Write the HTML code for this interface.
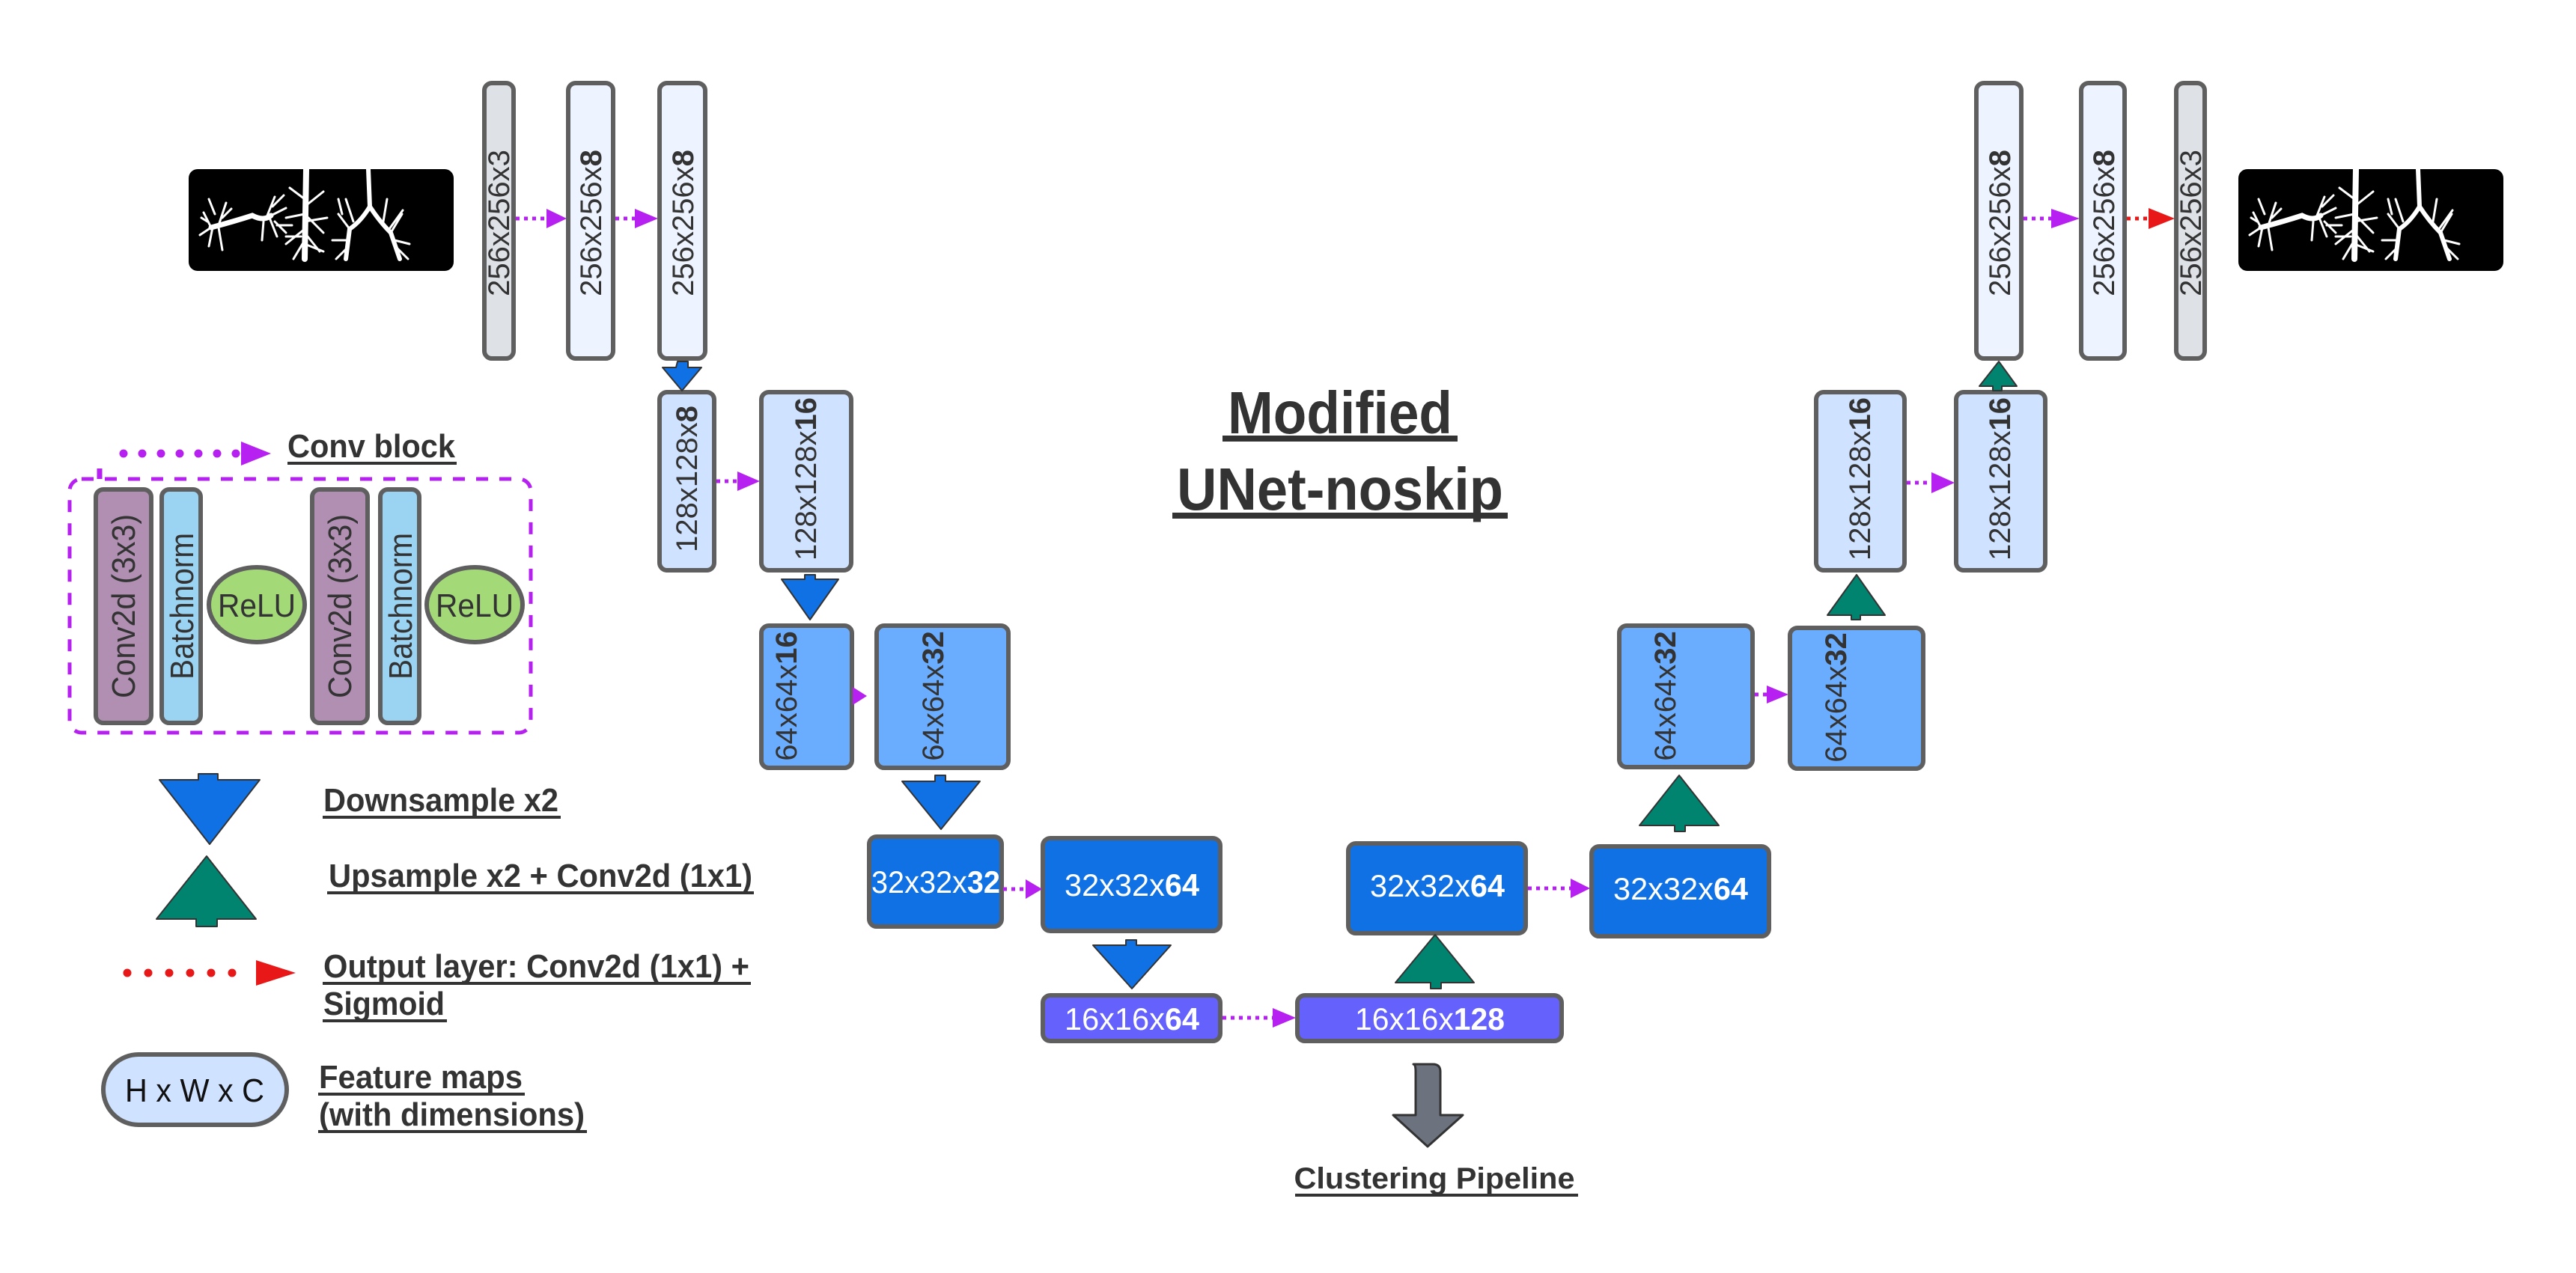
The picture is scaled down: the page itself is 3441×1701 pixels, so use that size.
<!DOCTYPE html>
<html><head><meta charset="utf-8"><style>
html,body{margin:0;padding:0;background:#fff;}
svg{display:block;}
text{font-family:"Liberation Sans",sans-serif;fill:#333;}
</style></head><body>
<svg width="3441" height="1701" viewBox="0 0 3441 1701" xmlns="http://www.w3.org/2000/svg">
<defs>
<g id="lung">
  <rect x="0" y="0" width="354" height="136" rx="12" fill="#000"/>
  <g stroke="#fff" fill="none" stroke-linecap="round">
    <path d="M30 78 Q60 70 85 62 Q100 70 110 62" stroke-width="7"/>
    <path d="M30 78 l-10 -20 M30 78 l-15 10 M32 78 l-5 25 M40 75 l10 -30 M40 78 l5 30 M25 70 l-8 -5 M35 60 l-8 -20 M45 65 l12 -12" stroke-width="3"/>
    <path d="M105 62 l10 -25 M110 62 l20 -10 M108 65 l10 25 M115 70 l15 15 M100 70 l-2 25 M112 50 l15 -15 M118 75 l20 0" stroke-width="3"/>
    <path d="M157 0 L155 120" stroke-width="8"/>
    <path d="M155 40 l-20 -15 M155 50 l25 -20 M155 60 l-25 5 M155 70 l30 -5 M155 80 l-25 20 M155 85 l20 25 M155 95 l-15 25 M155 100 l25 10 M150 90 l-20 0 M160 65 l20 20" stroke-width="3"/>
    <path d="M240 0 L242 50 Q230 70 215 80 L210 120 M242 50 Q255 70 270 85 L282 120" stroke-width="6"/>
    <path d="M215 80 l-15 -20 M212 95 l-20 0 M212 105 l-15 15 M220 70 l-10 -30 M270 85 l15 -25 M275 95 l20 5 M278 105 l15 15 M260 70 l5 -30 M268 80 l18 -25 M205 60 l-5 -20" stroke-width="3"/>
  </g>
</g>
</defs>

<use href="#lung" x="252" y="226"/>
<use href="#lung" x="2990" y="226"/>

<g stroke="#5f5f5f" stroke-width="6">
<rect x="647" y="111" width="39" height="368" rx="10" fill="#dee2e6"/>
<rect x="759" y="111" width="60" height="368" rx="10" fill="#edf4ff"/>
<rect x="881" y="111" width="61" height="368" rx="10" fill="#edf4ff"/>
<rect x="881" y="524" width="73" height="238" rx="10" fill="#cfe2ff"/>
<rect x="1017" y="524" width="120" height="238" rx="10" fill="#cfe2ff"/>
<rect x="1017" y="836" width="121" height="190" rx="10" fill="#6aadfe"/>
<rect x="1171" y="836" width="176" height="190" rx="10" fill="#6aadfe"/>
<rect x="1161" y="1118" width="177" height="120" rx="10" fill="#1071e5"/>
<rect x="1393" y="1120" width="237" height="124" rx="10" fill="#1071e5"/>
<rect x="1393" y="1330" width="237" height="61" rx="10" fill="#6461fc"/>
<rect x="1733" y="1330" width="353" height="61" rx="10" fill="#6461fc"/>
<rect x="1801" y="1127" width="237" height="120" rx="10" fill="#1071e5"/>
<rect x="2126" y="1131" width="237" height="120" rx="10" fill="#1071e5"/>
<rect x="2163" y="836" width="178" height="189" rx="10" fill="#6aadfe"/>
<rect x="2391" y="839" width="178" height="188" rx="10" fill="#6aadfe"/>
<rect x="2426" y="524" width="118" height="238" rx="10" fill="#cfe2ff"/>
<rect x="2613" y="524" width="119" height="238" rx="10" fill="#cfe2ff"/>
<rect x="2640" y="111" width="60" height="368" rx="10" fill="#edf4ff"/>
<rect x="2780" y="111" width="58" height="368" rx="10" fill="#edf4ff"/>
<rect x="2907" y="111" width="38" height="368" rx="10" fill="#dee2e6"/>
</g>

<g font-size="40" text-anchor="middle">
<text transform="translate(680,298) rotate(-90)">256x256x3</text>
<text transform="translate(803,298) rotate(-90)">256x256x<tspan font-weight="bold">8</tspan></text>
<text transform="translate(926,298) rotate(-90)">256x256x<tspan font-weight="bold">8</tspan></text>
<text transform="translate(931,640) rotate(-90)">128x128x<tspan font-weight="bold">8</tspan></text>
<text transform="translate(1090,640) rotate(-90)">128x128x<tspan font-weight="bold">16</tspan></text>
<text transform="translate(1064,930) rotate(-90)">64x64x<tspan font-weight="bold">16</tspan></text>
<text transform="translate(1260,930) rotate(-90)">64x64x<tspan font-weight="bold">32</tspan></text>
<text transform="translate(2238,930) rotate(-90)">64x64x<tspan font-weight="bold">32</tspan></text>
<text transform="translate(2466,932) rotate(-90)">64x64x<tspan font-weight="bold">32</tspan></text>
<text transform="translate(2498,640) rotate(-90)">128x128x<tspan font-weight="bold">16</tspan></text>
<text transform="translate(2685,640) rotate(-90)">128x128x<tspan font-weight="bold">16</tspan></text>
<text transform="translate(2685,298) rotate(-90)">256x256x<tspan font-weight="bold">8</tspan></text>
<text transform="translate(2824,298) rotate(-90)">256x256x<tspan font-weight="bold">8</tspan></text>
<text transform="translate(2940,298) rotate(-90)">256x256x3</text>
</g>

<g font-size="42" text-anchor="middle">
<text x="1250" y="1193" textLength="172" lengthAdjust="spacingAndGlyphs" style="fill:#fff">32x32x<tspan font-weight="bold">32</tspan></text>
<text x="1512" y="1197" textLength="180" lengthAdjust="spacingAndGlyphs" style="fill:#fff">32x32x<tspan font-weight="bold">64</tspan></text>
<text x="1512" y="1376" textLength="180" lengthAdjust="spacingAndGlyphs" style="fill:#fff">16x16x<tspan font-weight="bold">64</tspan></text>
<text x="1910" y="1376" textLength="200" lengthAdjust="spacingAndGlyphs" style="fill:#fff">16x16x<tspan font-weight="bold">128</tspan></text>
<text x="1920" y="1198" textLength="180" lengthAdjust="spacingAndGlyphs" style="fill:#fff">32x32x<tspan font-weight="bold">64</tspan></text>
<text x="2245" y="1202" textLength="180" lengthAdjust="spacingAndGlyphs" style="fill:#fff">32x32x<tspan font-weight="bold">64</tspan></text>
</g>

<g stroke="#b620f0" stroke-width="5" stroke-dasharray="5 6" fill="none">
<path d="M689 292 H730"/><path d="M822 292 H848"/>
<path d="M957 643 H985"/>
<path d="M1340 1188 H1370"/>
<path d="M1633 1360 H1700"/>
<path d="M2041 1187 H2098"/>
<path d="M2344 928 H2360"/>
<path d="M2547 645 H2580"/>
<path d="M2703 292 H2740"/>
</g>
<g fill="#b620f0">
<path d="M730 279 L757 292 L730 305Z"/><path d="M848 279 L879 292 L848 305Z"/>
<path d="M985 630 L1015 643 L985 656Z"/>
<path d="M1139 918 L1158 930 L1139 942Z"/>
<path d="M1370 1175 L1392 1188 L1370 1201Z"/>
<path d="M1700 1347 L1731 1360 L1700 1373Z"/>
<path d="M2098 1174 L2124 1187 L2098 1200Z"/>
<path d="M2360 916 L2389 928 L2360 940Z"/>
<path d="M2580 631 L2611 645 L2580 659Z"/>
<path d="M2740 279 L2778 292 L2740 305Z"/>
</g>
<path d="M2841 292 H2870" stroke="#e81818" stroke-width="5" stroke-dasharray="5 6"/>
<path d="M2870 278 L2905 292 L2870 306Z" fill="#e81818"/>

<g fill="#1071e5" stroke="#333" stroke-width="2" stroke-linejoin="round">
<path d="M905 483 h14 v8 h18 L911 522 L885 491 h18z"/>
<path d="M1075 768 h14 v6 h31 L1082 828 L1044 774 h31z"/>
<path d="M1249 1036 h14 v8 h46 L1257 1108 L1205 1044 h44z"/>
<path d="M1504 1256 h14 v7 h46 L1512 1321 L1460 1263 h44z"/>
<path d="M265 1034 h26 v8 h56 L280 1128 L213 1042 h52z" />
</g>
<g fill="#008470" stroke="#333" stroke-width="2" stroke-linejoin="round">
<path d="M2662 522 h12 v-6 h20 L2670 483 L2644 516 h18z"/>
<path d="M2473 828 h12 v-6 h33 L2480 768 L2441 822 h32z"/>
<path d="M2237 1111 h14 v-8 h45 L2243 1036 L2190 1103 h47z"/>
<path d="M1911 1321 h14 v-8 h44 L1917 1249 L1864 1313 h47z"/>
<path d="M262 1238 h28 v-10 h52 L276 1144 L209 1228 h53z"/>
</g>
<path d="M1888 1422 h26 q10 0 10 10 v58 l30 0 L1907 1532 L1861 1490 l30 0 v-58 q0 -10 -3 -10z" fill="#6c737e" stroke="#333" stroke-width="3" stroke-linejoin="round"/>
<text x="1916" y="1588" font-size="40" font-weight="bold" text-anchor="middle" textLength="375" lengthAdjust="spacingAndGlyphs">Clustering Pipeline</text>
<rect x="1730" y="1595" width="378" height="4" fill="#333"/>

<text x="1790" y="579" font-size="80" font-weight="bold" text-anchor="middle" textLength="300" lengthAdjust="spacingAndGlyphs">Modified</text>
<rect x="1633" y="582" width="314" height="8" fill="#333"/>
<text x="1790" y="681" font-size="80" font-weight="bold" text-anchor="middle" textLength="436" lengthAdjust="spacingAndGlyphs">UNet-noskip</text>
<rect x="1566" y="685" width="448" height="8" fill="#333"/>

<path d="M165 606 H335" stroke="#b620f0" stroke-width="11" stroke-dasharray="0 25" stroke-linecap="round"/>
<path d="M322 590 L362 606 L322 622Z" fill="#b620f0"/>
<text x="384" y="611" font-size="44" font-weight="bold" textLength="224" lengthAdjust="spacingAndGlyphs">Conv block</text>
<rect x="384" y="617" width="226" height="4" fill="#333"/>
<rect x="93" y="640" width="616" height="339" rx="16" fill="none" stroke="#b620f0" stroke-width="5" stroke-dasharray="16 15"/>
<path d="M133 626 v14" stroke="#b620f0" stroke-width="7"/>
<g stroke="#5f5f5f" stroke-width="6">
<rect x="128" y="654" width="74" height="312" rx="10" fill="#b08fb2"/>
<rect x="216" y="654" width="52" height="312" rx="10" fill="#9bd3f2"/>
<ellipse cx="343" cy="808" rx="64" ry="50" fill="#a3d977"/>
<rect x="417" y="654" width="74" height="312" rx="10" fill="#b08fb2"/>
<rect x="508" y="654" width="52" height="312" rx="10" fill="#9bd3f2"/>
<ellipse cx="634" cy="808" rx="64" ry="50" fill="#a3d977"/>
</g>
<g font-size="44" text-anchor="middle">
<text transform="translate(180,810) rotate(-90)" textLength="246" lengthAdjust="spacingAndGlyphs">Conv2d (3x3)</text>
<text transform="translate(258,810) rotate(-90)" textLength="196" lengthAdjust="spacingAndGlyphs">Batchnorm</text>
<text x="343" y="824" textLength="104" lengthAdjust="spacingAndGlyphs">ReLU</text>
<text transform="translate(469,810) rotate(-90)" textLength="246" lengthAdjust="spacingAndGlyphs">Conv2d (3x3)</text>
<text transform="translate(550,810) rotate(-90)" textLength="196" lengthAdjust="spacingAndGlyphs">Batchnorm</text>
<text x="634" y="824" textLength="104" lengthAdjust="spacingAndGlyphs">ReLU</text>
</g>

<g font-size="44" font-weight="bold">
<text x="432" y="1084" textLength="314" lengthAdjust="spacingAndGlyphs">Downsample x2</text>
<text x="439" y="1185" textLength="566" lengthAdjust="spacingAndGlyphs">Upsample x2 + Conv2d (1x1)</text>
<text x="432" y="1306" textLength="569" lengthAdjust="spacingAndGlyphs">Output layer: Conv2d (1x1) +</text>
<text x="432" y="1356" textLength="162" lengthAdjust="spacingAndGlyphs">Sigmoid</text>
<text x="426" y="1454" textLength="272" lengthAdjust="spacingAndGlyphs">Feature maps</text>
<text x="426" y="1504" textLength="355" lengthAdjust="spacingAndGlyphs">(with dimensions)</text>
</g>
<g fill="#333">
<rect x="431" y="1090" width="318" height="4"/>
<rect x="437" y="1191" width="570" height="4"/>
<rect x="431" y="1312" width="572" height="4"/>
<rect x="431" y="1362" width="166" height="4"/>
<rect x="425" y="1460" width="276" height="4"/>
<rect x="425" y="1510" width="359" height="4"/>
</g>
<path d="M170 1300 H325" stroke="#e81818" stroke-width="11" stroke-dasharray="0 28" stroke-linecap="round"/>
<path d="M342 1283 L395 1300 L342 1317Z" fill="#e81818"/>
<rect x="138" y="1409" width="245" height="94" rx="47" fill="#cfe2ff" stroke="#5f5f5f" stroke-width="6"/>
<text x="260" y="1472" font-size="44" text-anchor="middle" textLength="186" lengthAdjust="spacingAndGlyphs" style="fill:#111">H x W x C</text>
</svg>
</body></html>
